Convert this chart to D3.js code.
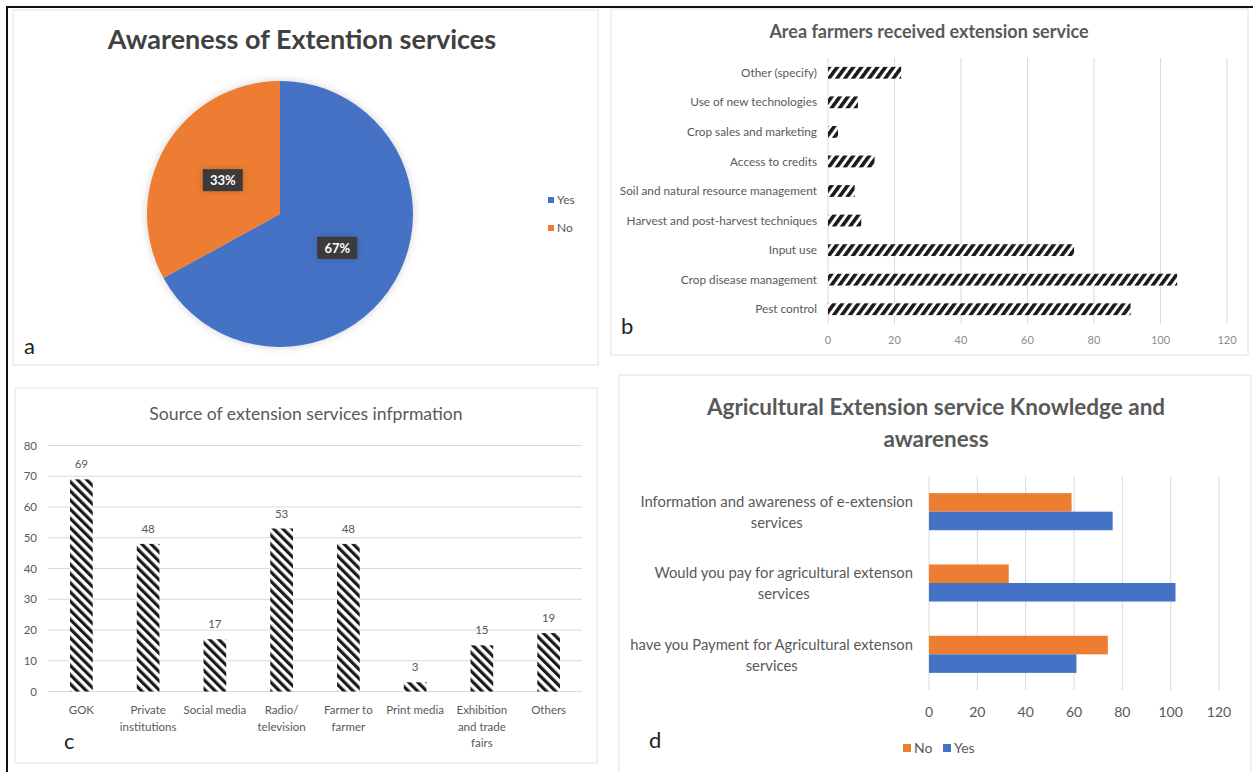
<!DOCTYPE html>
<html>
<head>
<meta charset="utf-8">
<script src="https://cdn.jsdelivr.net/npm/d3@7"></script>
<style>
  html, body { margin: 0; padding: 0; background: #fff; }
  svg { display: block; font-family: Lato, "Open Sans", sans-serif; }
</style>
</head>
<body>
<svg id="fig" width="1253" height="772"></svg>
<script>
// ---- Panel a: awareness of extension services ----
const awarenessLabels = ["Yes", "No"];
const awarenessValues = [67, 33];

// ---- Panel b: area farmers received extension service (bottom to top) ----
const areaCategories = [
  "Pest control", "Crop disease management", "Input use",
  "Harvest and post-harvest techniques", "Soil and natural resource management",
  "Access to credits", "Crop sales and marketing", "Use of new technologies",
  "Other (specify)"
];
const areaValues = [91, 105, 74, 10, 8, 14, 3, 9, 22];
const areaTicks = [0, 20, 40, 60, 80, 100, 120];

// ---- Panel c: source of extension services information ----
const sourceCategories = [
  ["GOK"], ["Private", "institutions"], ["Social media"], ["Radio/", "television"],
  ["Farmer to", "farmer"], ["Print media"], ["Exhibition", "and trade", "fairs"], ["Others"]
];
const sourceValues = [69, 48, 17, 53, 48, 3, 15, 19];
const sourceTicks = [0, 10, 20, 30, 40, 50, 60, 70, 80];

// ---- Panel d: knowledge and awareness ----
const knowledgeCategories = [
  ["Information and awareness of e-extension", "services"],
  ["Would you pay for agricultural extenson", "services"],
  ["have you Payment for Agricultural extenson", "services"]
];
const knowledgeSeries = ["No", "Yes"];
const knowledgeNo = [59, 33, 74];
const knowledgeYes = [76, 102, 61];
const knowledgeTicks = [0, 20, 40, 60, 80, 100, 120];

const BLUE = "#4472C4", ORANGE = "#ED7D31", GREY = "#595959", GRID = "#d9d9d9";

const svg = d3.select("#fig");
const defs = svg.append("defs");

// hatch fills
function hatch(id, angle, period, thick) {
  const p = defs.append("pattern")
    .attr("id", id).attr("patternUnits", "userSpaceOnUse")
    .attr("width", period).attr("height", period)
    .attr("patternTransform", `rotate(${angle})`);
  p.append("rect").attr("width", period).attr("height", period).attr("fill", "#fff");
  p.append("rect").attr("width", thick).attr("height", period).attr("fill", "#1a1a1a");
}
hatch("hatchUp", 36, 6.5, 3.6);
hatch("hatchDown", -45, 6.5, 3.2);

const shadow = defs.append("filter").attr("id", "soft").attr("x", "-20%").attr("y", "-20%").attr("width", "140%").attr("height", "140%");
shadow.append("feDropShadow").attr("dx", 0).attr("dy", 0).attr("stdDeviation", 4)
  .attr("flood-color", "#000").attr("flood-opacity", 0.18);

// outer frame and panel boxes
svg.append("rect").attr("x", 7).attr("y", 7).attr("width", 1252).attr("height", 772)
  .attr("fill", "none").attr("stroke", "#111").attr("stroke-width", 2);
const panels = [[13, 10, 585, 355], [611, 9, 637, 346], [15, 388, 582, 375], [619, 375, 632, 400]];
svg.selectAll("rect.panel").data(panels).join("rect").attr("class", "panel")
  .attr("x", d => d[0]).attr("y", d => d[1]).attr("width", d => d[2]).attr("height", d => d[3])
  .attr("fill", "#fff").attr("stroke", "#e2e2e2").attr("stroke-width", 1);

function panelLetter(t, x, y) {
  svg.append("text").attr("x", x).attr("y", y).text(t)
    .attr("font-size", 22).attr("fill", "#222").attr("font-family", "Lato, sans-serif");
}

// ================= Panel a =================
{
  const cx = 280, cy = 214, r = 133;
  const g = svg.append("g").attr("transform", `translate(${cx},${cy})`);
  const pie = d3.pie().sort(null).value(d => d)(awarenessValues);
  const arc = d3.arc().innerRadius(0).outerRadius(r);
  const colors = [BLUE, ORANGE];
  g.append("g").attr("filter", "url(#soft)").selectAll("path").data(pie).join("path")
    .attr("d", arc).attr("fill", (d, i) => colors[i]);
  const lab = g.selectAll("g.lab").data(pie).join("g").attr("class", "lab")
    .attr("transform", d => `translate(${arc.centroid(d)})`);
  lab.append("rect").attr("x", -20).attr("y", -11).attr("width", 40).attr("height", 22)
    .attr("fill", "#3a3a3a").attr("filter", "url(#soft)");
  lab.append("text").attr("text-anchor", "middle").attr("dy", "0.36em")
    .attr("font-size", 13).attr("font-weight", "bold").attr("fill", "#fff")
    .text((d, i) => Math.round(awarenessValues[i] / d3.sum(awarenessValues) * 100) + "%");

  svg.append("text").attr("x", 302).attr("y", 49).attr("text-anchor", "middle")
    .attr("font-size", 27).attr("font-weight", "bold").attr("fill", "#404040")
    .text("Awareness of Extention services");

  const leg = svg.selectAll("g.lega").data(awarenessLabels).join("g").attr("class", "lega")
    .attr("transform", (d, i) => `translate(548,${200 + i * 28})`);
  leg.append("rect").attr("x", 0).attr("y", -3).attr("width", 6).attr("height", 6)
    .attr("fill", (d, i) => colors[i]);
  leg.append("text").attr("x", 9).attr("dy", "0.35em").attr("font-size", 12).attr("fill", GREY).text(d => d);

  panelLetter("a", 24, 354);
}

// ================= Panel b =================
{
  const x = d3.scaleLinear().domain([0, 120]).range([828, 1227]);
  const y = d3.scaleBand().domain(areaCategories.slice().reverse()).range([58, 324]).paddingInner(0.6).paddingOuter(0.3);
  svg.append("g").selectAll("line").data(areaTicks).join("line")
    .attr("x1", d => x(d)).attr("x2", d => x(d)).attr("y1", 58).attr("y2", 324)
    .attr("stroke", GRID).attr("stroke-width", 1);
  svg.append("g").selectAll("rect").data(areaCategories).join("rect")
    .attr("x", x(0)).attr("y", d => y(d)).attr("height", y.bandwidth())
    .attr("width", (d, i) => x(areaValues[i]) - x(0)).attr("fill", "url(#hatchUp)");
  svg.append("g").selectAll("text").data(areaCategories).join("text")
    .attr("x", 817).attr("y", d => y(d) + y.bandwidth() / 2).attr("dy", "0.35em")
    .attr("text-anchor", "end").attr("font-size", 11.8).attr("fill", GREY).text(d => d);
  svg.append("g").selectAll("text").data(areaTicks).join("text")
    .attr("x", d => x(d)).attr("y", 340).attr("dy", "0.35em").attr("text-anchor", "middle")
    .attr("font-size", 11).attr("fill", "#8c8c8c").text(d => d);
  svg.append("text").attr("x", 929).attr("y", 38).attr("text-anchor", "middle")
    .attr("font-size", 18).attr("font-weight", "bold").attr("fill", GREY)
    .text("Area farmers received extension service");
  panelLetter("b", 621, 334);
}

// ================= Panel c =================
{
  const y = d3.scaleLinear().domain([0, 80]).range([691.5, 445.5]);
  const x = d3.scaleBand().domain(d3.range(sourceValues.length)).range([48, 582]).paddingInner(0.66).paddingOuter(0.33);
  svg.append("g").selectAll("line").data(sourceTicks).join("line")
    .attr("x1", 48).attr("x2", 582).attr("y1", d => y(d)).attr("y2", d => y(d))
    .attr("stroke", GRID).attr("stroke-width", 1);
  svg.append("g").selectAll("text").data(sourceTicks).join("text")
    .attr("x", 37).attr("y", d => y(d)).attr("dy", "0.35em").attr("text-anchor", "end")
    .attr("font-size", 11.5).attr("fill", GREY).text(d => d);
  svg.append("g").selectAll("rect").data(sourceValues).join("rect")
    .attr("x", (d, i) => x(i)).attr("width", x.bandwidth())
    .attr("y", d => y(d)).attr("height", d => y(0) - y(d)).attr("fill", "url(#hatchDown)");
  svg.append("g").selectAll("text").data(sourceValues).join("text")
    .attr("x", (d, i) => x(i) + x.bandwidth() / 2).attr("y", d => y(d) - 11)
    .attr("text-anchor", "middle").attr("font-size", 11.5).attr("fill", GREY).text(d => d);
  const cat = svg.append("g").selectAll("text").data(sourceCategories).join("text")
    .attr("text-anchor", "middle").attr("font-size", 11.5).attr("fill", GREY);
  cat.selectAll("tspan").data((d, i) => d.map(t => ({ t, i }))).join("tspan")
    .attr("x", d => x(d.i) + x.bandwidth() / 2).attr("y", (d, j) => 714 + j * 16.5).text(d => d.t);
  svg.append("text").attr("x", 306).attr("y", 420).attr("text-anchor", "middle")
    .attr("font-size", 17.6).attr("fill", GREY).text("Source of extension services infprmation");
  panelLetter("c", 64, 749);
}

// ================= Panel d =================
{
  const x = d3.scaleLinear().domain([0, 120]).range([929, 1219]);
  const y = d3.scaleBand().domain(d3.range(knowledgeCategories.length)).range([476, 690]).paddingInner(0.48).paddingOuter(0.24);
  const sub = d3.scaleBand().domain(knowledgeSeries).range([0, y.bandwidth()]);
  const colors = { No: ORANGE, Yes: BLUE };
  const vals = { No: knowledgeNo, Yes: knowledgeYes };
  svg.append("g").selectAll("line").data(knowledgeTicks).join("line")
    .attr("x1", d => x(d)).attr("x2", d => x(d)).attr("y1", 476).attr("y2", 690)
    .attr("stroke", GRID).attr("stroke-width", 1);
  const grp = svg.append("g").selectAll("g").data(knowledgeCategories).join("g")
    .attr("transform", (d, i) => `translate(0,${y(i)})`);
  grp.selectAll("rect").data((d, i) => knowledgeSeries.map(s => ({ s, v: vals[s][i] }))).join("rect")
    .attr("x", x(0)).attr("y", d => sub(d.s)).attr("height", sub.bandwidth())
    .attr("width", d => x(d.v) - x(0)).attr("fill", d => colors[d.s]);
  // right-aligned label blocks with centred lines
  grp.each(function (lines, i) {
    const t = d3.select(this).append("text").attr("text-anchor", "middle")
      .attr("font-size", 14.8).attr("fill", GREY);
    const spans = t.selectAll("tspan").data(lines).join("tspan")
      .attr("y", (d, j) => y.bandwidth() / 2 - 10 + j * 21).attr("dy", "0.35em").text(d => d);
    let w = 0;
    spans.each(function () { w = Math.max(w, this.getComputedTextLength()); });
    spans.attr("x", 913 - w / 2);
  });
  svg.append("g").selectAll("text").data(knowledgeTicks).join("text")
    .attr("x", d => x(d)).attr("y", 712).attr("dy", "0.35em").attr("text-anchor", "middle")
    .attr("font-size", 14).attr("fill", GREY).text(d => d);
  const title = svg.append("text").attr("text-anchor", "middle")
    .attr("font-size", 22.5).attr("font-weight", "bold").attr("fill", GREY);
  title.append("tspan").attr("x", 936).attr("y", 415).text("Agricultural Extension service Knowledge and");
  title.append("tspan").attr("x", 936).attr("y", 447).text("awareness");
  const leg = svg.selectAll("g.legd").data(knowledgeSeries).join("g").attr("class", "legd")
    .attr("transform", (d, i) => `translate(${903 + i * 40},748)`);
  leg.append("rect").attr("y", -4).attr("width", 8).attr("height", 8).attr("fill", d => colors[d]);
  leg.append("text").attr("x", 11).attr("dy", "0.35em").attr("font-size", 14).attr("fill", GREY).text(d => d);
  panelLetter("d", 649, 748);
}
</script>
</body>
</html>
